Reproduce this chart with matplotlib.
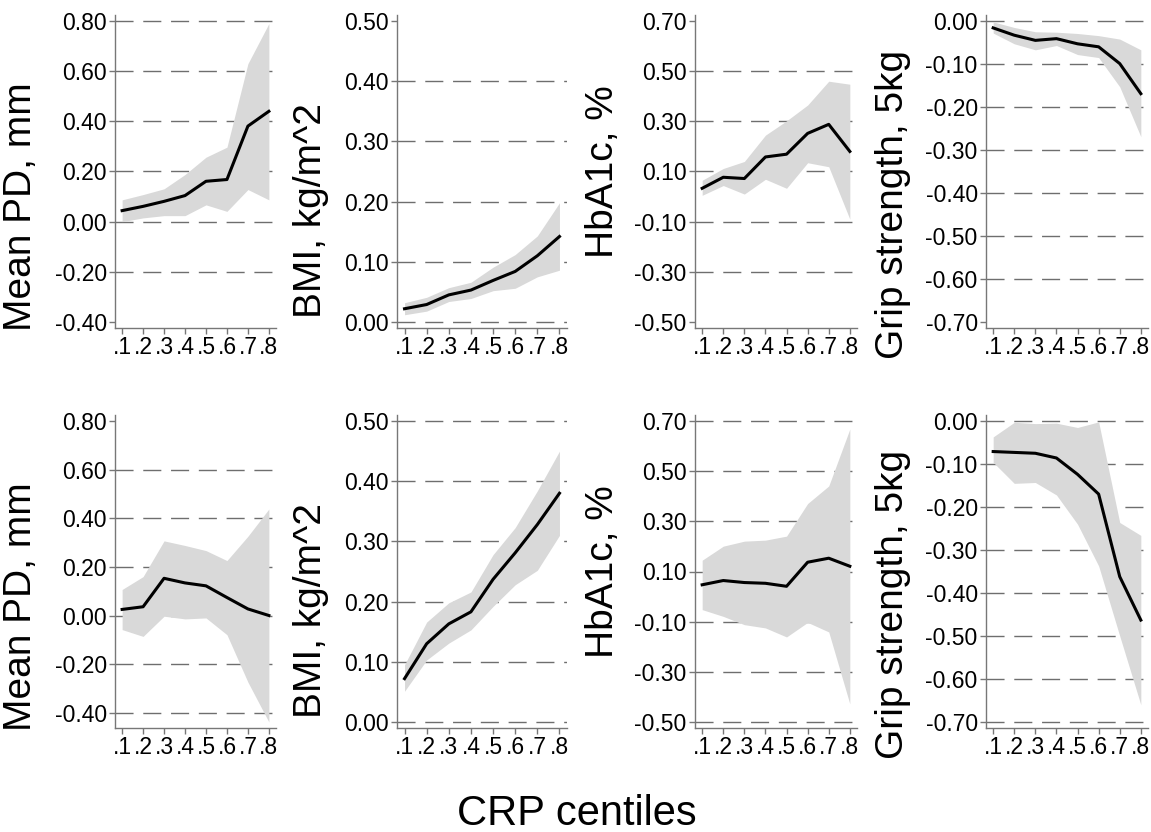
import matplotlib
matplotlib.use("Agg")
import matplotlib.pyplot as plt
import numpy as np

plt.rcParams['font.family'] = ['Liberation Sans', 'DejaVu Sans']
plt.rcParams['axes.unicode_minus'] = False

# CRP centiles on the x axis
centiles = [0.1, 0.2, 0.3, 0.4, 0.5, 0.6, 0.7, 0.8]
centile_labels = ['.1', '.2', '.3', '.4', '.5', '.6', '.7', '.8']

ylabels = ['Mean PD, mm', 'BMI, kg/m^2', 'HbA1c, %', 'Grip strength, 5kg']

# y ticks per column
yticks_pd = [0.80, 0.60, 0.40, 0.20, 0.00, -0.20, -0.40]
yticks_bmi = [0.50, 0.40, 0.30, 0.20, 0.10, 0.00]
yticks_hba1c = [0.70, 0.50, 0.30, 0.10, -0.10, -0.30, -0.50]
yticks_grip = [0.00, -0.10, -0.20, -0.30, -0.40, -0.50, -0.60, -0.70]

# ---- top row ----
pd_top = [0.044, 0.061, 0.081, 0.104, 0.161, 0.168, 0.381, 0.440]
pd_top_hi = [0.087, 0.108, 0.131, 0.188, 0.257, 0.297, 0.630, 0.790]
pd_top_lo = [0.000, 0.015, 0.024, 0.024, 0.067, 0.041, 0.128, 0.087]

bmi_top = [0.022, 0.029, 0.045, 0.053, 0.069, 0.084, 0.110, 0.142]
bmi_top_hi = [0.032, 0.041, 0.057, 0.066, 0.091, 0.112, 0.143, 0.198]
bmi_top_lo = [0.012, 0.018, 0.034, 0.039, 0.052, 0.056, 0.075, 0.086]

hba1c_top = [0.033, 0.077, 0.072, 0.158, 0.169, 0.252, 0.288, 0.180]
hba1c_top_hi = [0.065, 0.112, 0.140, 0.245, 0.302, 0.365, 0.460, 0.448]
hba1c_top_lo = [0.005, 0.044, 0.010, 0.069, 0.033, 0.135, 0.119, -0.090]

grip_top = [-0.016, -0.033, -0.045, -0.041, -0.053, -0.060, -0.099, -0.169]
grip_top_hi = [-0.002, -0.015, -0.025, -0.026, -0.029, -0.034, -0.042, -0.067]
grip_top_lo = [-0.028, -0.053, -0.067, -0.057, -0.078, -0.085, -0.153, -0.269]

# ---- bottom row ----
pd_bot = [0.025, 0.036, 0.153, 0.134, 0.122, 0.074, 0.027, 0.000]
pd_bot_hi = [0.107, 0.160, 0.307, 0.288, 0.267, 0.226, 0.326, 0.438]
pd_bot_lo = [-0.058, -0.086, -0.003, -0.014, -0.010, -0.079, -0.274, -0.438]

bmi_bot = [0.072, 0.130, 0.163, 0.183, 0.237, 0.281, 0.328, 0.380]
bmi_bot_hi = [0.095, 0.166, 0.198, 0.216, 0.278, 0.323, 0.384, 0.450]
bmi_bot_lo = [0.051, 0.103, 0.131, 0.153, 0.192, 0.228, 0.252, 0.310]

hba1c_bot = [0.047, 0.064, 0.056, 0.053, 0.041, 0.137, 0.153, 0.121]
hba1c_bot_hi = [0.145, 0.201, 0.221, 0.225, 0.241, 0.371, 0.441, 0.668]
hba1c_bot_lo = [-0.052, -0.079, -0.112, -0.125, -0.161, -0.103, -0.141, -0.428]

grip_bot = [-0.071, -0.073, -0.075, -0.086, -0.124, -0.170, -0.362, -0.463]
grip_bot_hi = [-0.037, -0.003, -0.006, -0.005, -0.015, -0.002, -0.236, -0.266]
grip_bot_lo = [-0.096, -0.145, -0.143, -0.172, -0.240, -0.337, -0.500, -0.660]

panels = [
    [(pd_top, pd_top_lo, pd_top_hi, yticks_pd, [-0.40]),
     (bmi_top, bmi_top_lo, bmi_top_hi, yticks_bmi, [0.50]),
     (hba1c_top, hba1c_top_lo, hba1c_top_hi, yticks_hba1c, [0.70, -0.50]),
     (grip_top, grip_top_lo, grip_top_hi, yticks_grip, [-0.70])],
    [(pd_bot, pd_bot_lo, pd_bot_hi, yticks_pd, [0.80]),
     (bmi_bot, bmi_bot_lo, bmi_bot_hi, yticks_bmi, []),
     (hba1c_bot, hba1c_bot_lo, hba1c_bot_hi, yticks_hba1c, []),
     (grip_bot, grip_bot_lo, grip_bot_hi, yticks_grip, [])],
]

W, H = 1151, 832
fig = plt.figure(figsize=(W / 100, H / 100), dpi=100)

# layout in pixels
col_left = [115, 397, 695, 986]
col_right = [276, 567, 857, 1148]
row_top = [15, 415]
row_bot = [328, 728]
label_x = [39, 329, 621, 911]      # right edge of the rotated y label
label_yoff = [207, 211, 172, 204]  # label centre, px from row top (axis at 15)

for r in range(2):
    for c in range(4):
        y, lo, hi, ticks, nogrid = panels[r][c]
        ax = fig.add_axes([col_left[c] / W, 1 - row_bot[r] / H,
                           (col_right[c] - col_left[c]) / W,
                           (row_bot[r] - row_top[r]) / H])
        ax.fill_between(centiles, lo, hi, color='#d9d9d9', lw=0, zorder=2)
        ax.plot(centiles, y, color='black', lw=2.2, zorder=3)
        for t in ticks:
            if t not in nogrid:
                ax.axhline(t, color='#6e6e6e', lw=1.0, dashes=(13, 7), zorder=1)
        top = max(max(ticks), max(hi))
        bot = min(min(ticks), min(lo))
        pad = 0.02 * (top - bot)
        ax.set_ylim(bot - pad, top + pad)
        ax.set_xlim(0.066, 0.834)
        ax.set_yticks(ticks)
        ax.set_yticklabels(['%.2f' % t for t in ticks])
        ax.set_xticks(centiles)
        ax.set_xticklabels(centile_labels)
        for s in ['top', 'right']:
            ax.spines[s].set_visible(False)
        for s in ['left', 'bottom']:
            ax.spines[s].set_color('#777777')
            ax.spines[s].set_linewidth(1.0)
        ax.tick_params(axis='both', colors='#777777', labelcolor='black',
                       labelsize=16.5, length=4, width=1.0, pad=2)
        ax.set_ylabel(ylabels[c], fontsize=28)
        ly = row_top[r] - 15 + label_yoff[c]
        ax.yaxis.set_label_coords(label_x[c] / W, 1 - ly / H, transform=fig.transFigure)

fig.text(577 / W, 1 - 825 / H, 'CRP centiles', fontsize=30, ha='center', va='baseline')

fig.savefig('out.png', dpi=100)
